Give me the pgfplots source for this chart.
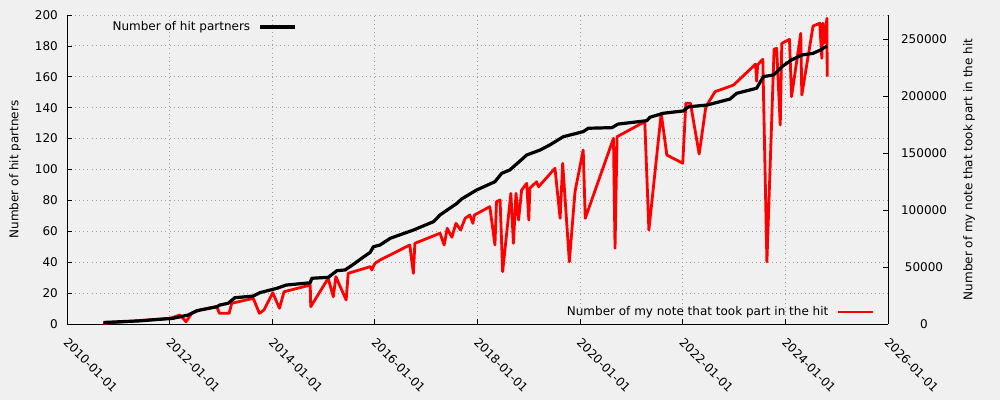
\documentclass[border=0pt]{standalone}
\usepackage{fontspec}
\setmainfont{DejaVu Sans}
\usepackage{pgfplots}
\usepackage{pgfplotstable}
\pgfplotsset{compat=1.18}
\definecolor{bg}{HTML}{F0F0F0}
\definecolor{gridc}{HTML}{A0A0A0}

\pgfplotstableread{
year partners
2010.71 1
2011.40 2
2012.07 3.7
2012.36 5.8
2012.53 8.6
2012.92 11.2
2012.98 12.3
2013.14 13.4
2013.27 17.0
2013.63 18.1
2013.76 20.3
2014.09 23.1
2014.27 25.2
2014.74 26.7
2014.77 29.6
2015.09 30.2
2015.26 34.5
2015.42 35.0
2015.58 38.6
2015.77 43.2
2015.91 46.4
2015.97 50.0
2016.10 51.1
2016.30 55.5
2016.75 60.8
2017.14 66.2
2017.27 70.6
2017.60 78.1
2017.69 80.9
2017.98 86.7
2018.34 92.1
2018.47 97.5
2018.63 99.7
2018.96 109.4
2019.22 112.6
2019.41 115.9
2019.67 121.2
2020.06 124.5
2020.16 126.7
2020.62 127.1
2020.74 129.4
2021.30 131.6
2021.36 133.8
2021.62 136.4
2022.01 137.9
2022.11 140.6
2022.47 141.7
2022.92 145.6
2023.05 149.3
2023.44 152.6
2023.57 160.1
2023.77 161.2
2023.93 166.5
2024.12 170.9
2024.32 174.1
2024.54 175.2
2024.68 177.3
2024.81 179.9
}\partners

\pgfplotstableread{
year notes
2010.71 600
2012.01 5000
2012.20 7900
2012.32 2000
2012.43 9400
2012.59 12300
2012.92 15200
2012.97 9400
2013.16 9400
2013.21 18200
2013.63 22500
2013.75 9400
2013.84 12300
2014.01 27500
2014.14 13800
2014.23 28300
2014.74 34200
2014.75 15200
2015.09 40100
2015.19 23900
2015.24 41500
2015.44 21100
2015.48 44500
2015.91 50300
2015.94 47400
2016.00 53200
2016.10 56100
2016.68 69300
2016.75 44500
2016.78 70800
2017.27 79600
2017.35 69300
2017.41 83900
2017.50 76100
2017.58 88300
2017.67 82500
2017.76 92700
2017.85 95600
2017.91 88300
2017.94 95600
2018.24 102900
2018.34 69300
2018.37 107300
2018.44 108800
2018.49 45900
2018.65 114600
2018.70 70800
2018.75 114600
2018.80 91200
2018.86 117500
2018.96 123400
2019.00 91200
2019.02 119000
2019.15 124800
2019.19 120400
2019.51 136600
2019.61 92700
2019.66 141000
2019.79 54600
2019.90 116100
2020.06 152600
2020.10 92700
2020.65 162900
2020.68 66400
2020.72 164300
2021.26 177500
2021.34 82500
2021.58 184800
2021.69 148200
2022.00 141000
2022.06 193600
2022.15 193600
2022.32 149100
2022.45 190600
2022.63 203800
2022.99 209600
2023.42 228000
2023.44 213000
2023.46 227500
2023.56 232200
2023.64 54600
2023.78 241000
2023.83 241800
2023.90 174600
2023.93 246200
2024.08 249700
2024.12 199400
2024.30 255000
2024.32 200900
2024.54 261400
2024.67 263800
2024.71 233100
2024.73 263800
2024.75 246200
2024.81 268200
2024.815 216900
}\notes

\begin{document}
\fontsize{12}{14}\selectfont
\begin{tikzpicture}
\fill[bg] (-67pt,-76pt) rectangle (933pt,324pt);
\useasboundingbox (-67pt,-76pt) rectangle (933pt,324pt);
\pgfplotsset{
  base/.style={
    scale only axis, width=821pt, height=309pt,
    at={(0pt,0pt)}, anchor=south west,
    xmin=2010, xmax=2026,
    /pgf/number format/assume math mode=true,
    tick label style={font=\fontsize{12}{14}\selectfont},
    label style={font=\fontsize{12}{14}\selectfont},
    legend style={font=\fontsize{12}{14}\selectfont, draw=none, fill=none},
    legend plot pos=right, legend cell align=right,
    legend image code/.code={\path[draw=none, fill=none] (0pt,-1pt) rectangle (43pt,1pt); \draw[##1] (8pt,0pt) -- (43pt,0pt);},
    tick align=inside, major tick length=5pt, minor tick length=3pt,
    axis line style={line width=0.8pt, black},
    every tick/.style={black, line width=0.8pt},
  }
}
% left axis with grid and x axis
\begin{axis}[base,
  axis x line*=bottom, axis y line*=left,
  ymin=0, ymax=200, ytick={0,20,...,200},
  xtick={2010,2012,...,2026},
  xticklabels={2010-01-01,2012-01-01,2014-01-01,2016-01-01,2018-01-01,2020-01-01,2022-01-01,2024-01-01,2026-01-01},
  minor x tick num=7,
  grid=major, grid style={gridc, line width=0.9pt, dash pattern=on 0.9pt off 3.2pt},
  yticklabel style={xshift=-5pt},
  xticklabel style={xshift=-4pt, yshift=-13.5pt, rotate=-45, anchor=west},
  ylabel={Number of hit partners},
  ylabel style={at={(axis description cs:-0.0633,0.5)}, anchor=center},
]
\end{axis}
% right axis with red series
\begin{axis}[base,
  axis x line=none, axis y line*=right,
  ymin=0, ymax=271053, ytick={0,50000,...,250000},
  scaled y ticks=false,
  yticklabel style={/pgf/number format/fixed, /pgf/number format/1000 sep={}, anchor=center, xshift=36pt},
  ylabel={Number of my note that took part in the hit},
  ylabel style={at={(axis description cs:1.0987,0.5)}, anchor=center},
  legend style={at={(axis description cs:0.9878,0.0388)}, anchor=east},
]
\addplot[red, line width=2.8pt, line join=round] table[x=year, y=notes] {\notes};
\addlegendentry{Number of my note that took part in the hit}
\end{axis}
% black series on top
\begin{axis}[base, hide axis,
  ymin=0, ymax=200,
  legend style={at={(axis description cs:0.2838,0.961)}, anchor=east},
]
\addplot[black, line width=3.2pt, line join=round] table[x=year, y=partners] {\partners};
\addlegendentry{Number of hit partners}
\end{axis}
\end{tikzpicture}
\end{document}
